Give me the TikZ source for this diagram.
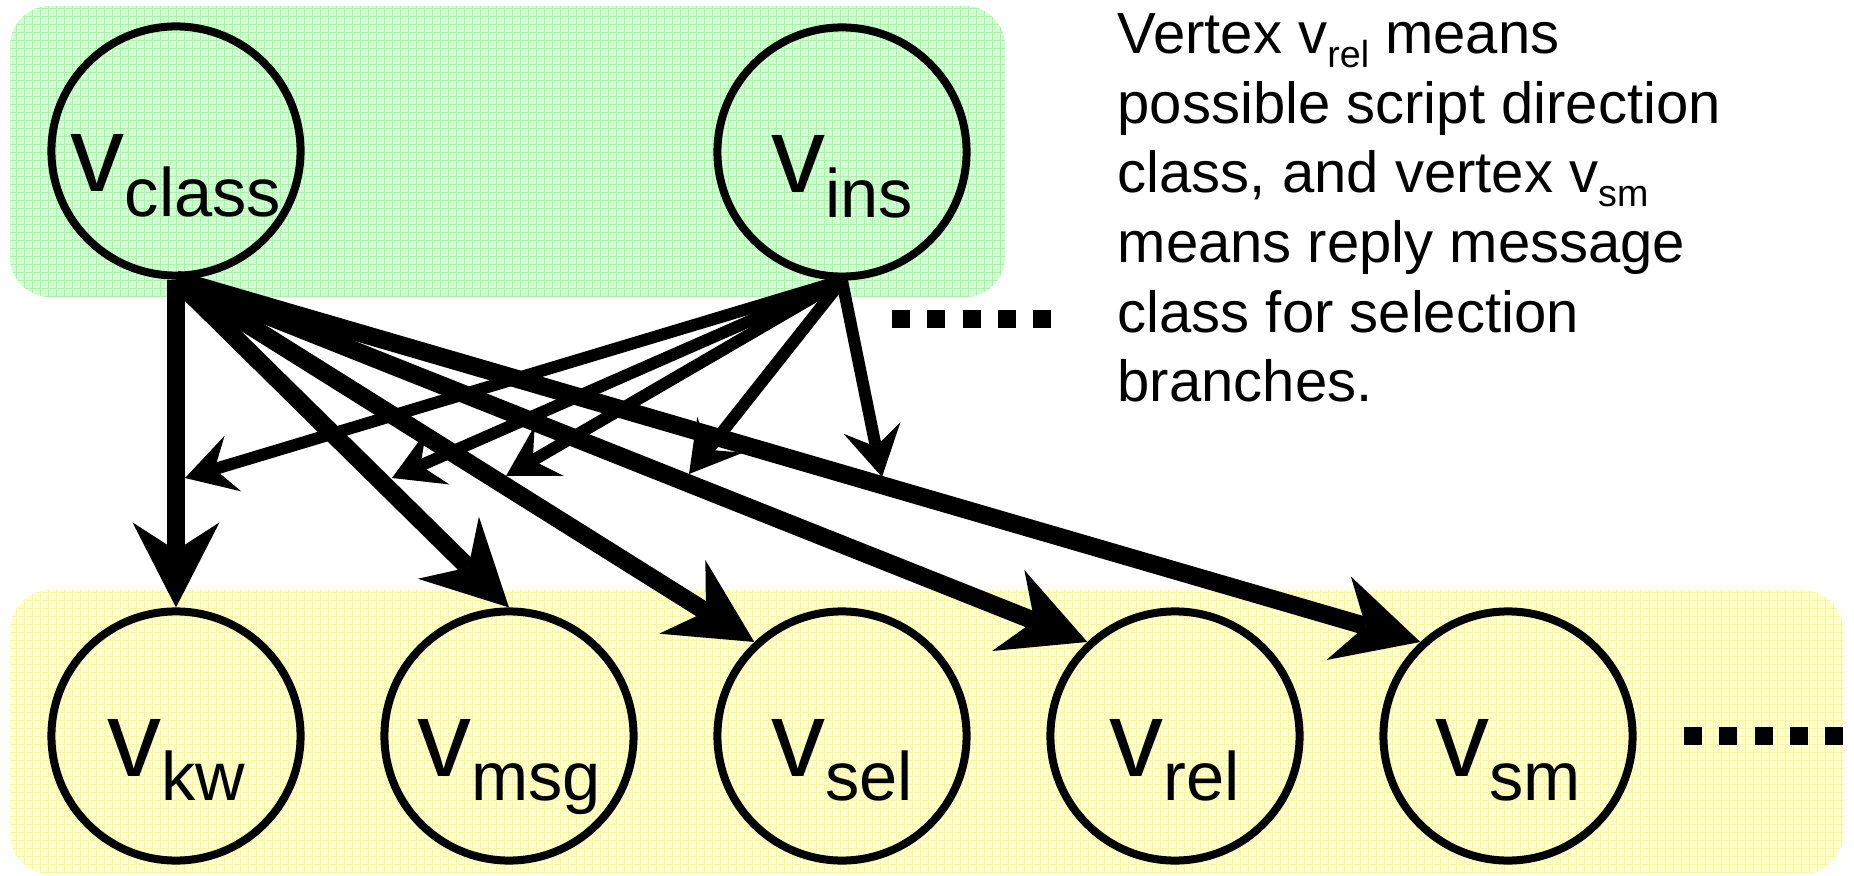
\documentclass[tikz,border=0pt]{standalone}
\usepackage{fontspec}
\setmainfont{Liberation Sans}
\usetikzlibrary{arrows.meta,calc}

\definecolor{gfill}{RGB}{206,255,206}
\definecolor{ggrid}{RGB}{170,242,170}
\definecolor{yfill}{RGB}{255,255,204}
\definecolor{ygrid}{RGB}{250,246,160}

% vertex label: large v with a lowered index
\newcommand\vname[1]{{\fontsize{30.7pt}{32pt}\selectfont v}\raisebox{-7.1pt}{\fontsize{19.5pt}{20pt}\selectfont #1}}
% inline vertex name in the explanation text
\newcommand\vinline[1]{v\raisebox{-3.9pt}{\fontsize{10.7pt}{11pt}\selectfont #1}}

\tikzset{
  vert/.style={circle, draw=black, line width=0.08cm, minimum size=2.49cm, inner sep=0pt},
  vlab/.style={anchor=base, inner sep=0pt},
  bigedge/.style={draw=black, line width=0.18cm,
    -{Stealth[length=0.85cm, width=0.87cm, inset=0.28cm, line width=0pt]}},
  smalledge/.style={draw=black, line width=0.12cm,
    -{Stealth[length=0.50cm, width=0.58cm, inset=0.19cm, line width=0pt]}},
  dotrow/.style={draw=black, line width=0.18cm, dash pattern=on 0.18cm off 0.1725cm},
  para/.style={anchor=base west, inner sep=0pt, font=\fontsize{16.5pt}{19.8pt}\selectfont},
}

\begin{document}
\begin{tikzpicture}[x=0.01cm, y=-0.01cm]
\useasboundingbox (0,0) rectangle (1854,876);

% green panel for the upper vertices
\begin{scope}
  \clip[rounded corners=0.4cm] (10,6) rectangle (1005,297);
  \fill[gfill] (0,0) rectangle (1020,310);
  \draw[ggrid, line width=0.01cm, step=0.08cm] (0,0) grid (1020,310);
\end{scope}

% yellow panel for the lower vertices
\begin{scope}
  \clip[rounded corners=0.4cm] (10,590) rectangle (1843,874);
  \fill[yfill] (0,580) rectangle (1854,876);
  \draw[ygrid, line width=0.01cm, step=0.08cm] (0,580) grid (1854,876);
\end{scope}

% vertices
\node[vert] (class) at (176,151) {};
\node[vert] (ins)   at (842,152) {};
\node[vert] (kw)    at (176,736) {};
\node[vert] (msg)   at (509,736) {};
\node[vert] (sel)   at (842,736) {};
\node[vert] (rel)   at (1175,736) {};
\node[vert] (sm)    at (1508,736) {};

\node[vlab] (lclass) at ($(class.center)+(0,41)$) {\vname{class}};
\node[vlab] (lins)   at ($(ins.center)+(0,41)$)   {\vname{ins}};
\node[vlab] (lkw)    at ($(kw.center)+(0,40)$)    {\vname{kw}};
\node[vlab] (lmsg)   at ($(msg.center)+(0,40)$)   {\vname{msg}};
\node[vlab] (lsel)   at ($(sel.center)+(0,40)$)   {\vname{sel}};
\node[vlab] (lrel)   at ($(rel.center)+(0,40)$)   {\vname{rel}};
\node[vlab] (lsm)    at ($(sm.center)+(0,40)$)    {\vname{sm}};

% edges from the class vertex
\draw[bigedge] (class.south) -- (kw.north);
\draw[bigedge] (class.south) -- (msg.north);
\draw[bigedge] (class.south) -- (sel.133);
\draw[bigedge] (class.south) -- (rel.133);
\draw[bigedge] (class.south) -- (sm.133);

% points on those edges reached by the ins vertex
\coordinate (onkw)  at (185,478);
\coordinate (onmsg) at (392,478);
\coordinate (onsel) at (506,476);
\coordinate (onrel) at (689,474);
\coordinate (onsm)  at (882,477);

\draw[smalledge] (ins.south) -- (onkw);
\draw[smalledge] (ins.south) -- (onmsg);
\draw[smalledge] (ins.south) -- (onsel);
\draw[smalledge] (ins.south) -- (onrel);
\draw[smalledge] (ins.south) -- (onsm);

% continuation marks
\coordinate (da) at (892,319);
\coordinate (db) at (1051,319);
\coordinate (dc) at (1684,736);
\coordinate (dd) at (1843,736);
\draw[dotrow] (da) -- (db);
\draw[dotrow] (dc) -- (dd);

% explanation
\node[para] (t1) at (1117,54)    {Vertex \vinline{rel} means};
\node[para] (t2) at (1117,123.5) {possible script direction};
\node[para] (t3) at (1117,193)   {class, and vertex \vinline{sm}};
\node[para] (t4) at (1117,262.5) {means reply message};
\node[para] (t5) at (1117,332)   {class for selection};
\node[para] (t6) at (1117,401.5) {branches.};
\end{tikzpicture}
\end{document}
